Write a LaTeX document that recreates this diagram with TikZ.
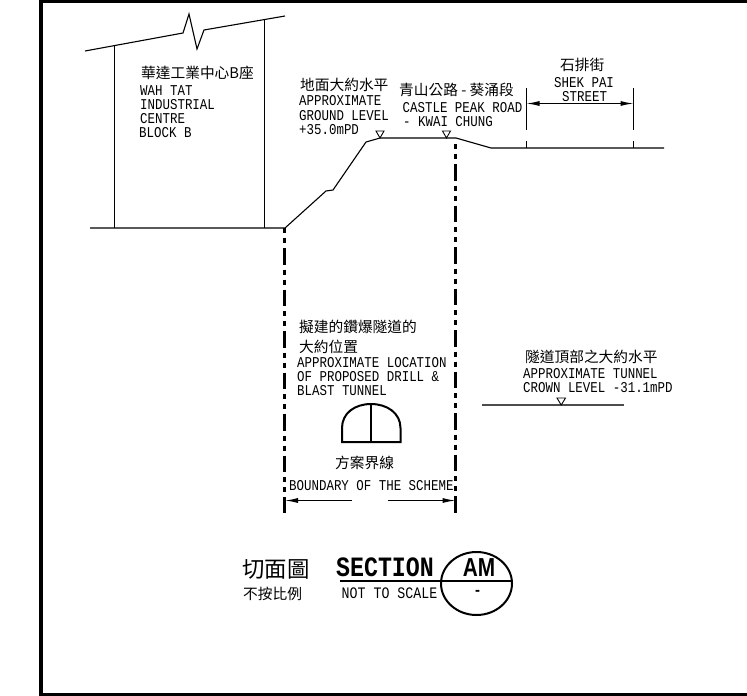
\documentclass[tikz,border=0pt]{standalone}
\usepackage{fontspec}
\setmainfont{Liberation Mono}
\newfontfamily\cad[FakeStretch=0.83]{Liberation Mono}
\newfontfamily\cadsans[FakeStretch=0.8]{Liberation Sans}
\newfontfamily\cjk{Noto Sans CJK TC}
\usetikzlibrary{arrows.meta,shapes.geometric}
\tikzset{
  x=1pt,y=-1pt,
  thin line/.style={line width=1.1pt,black},
  dim tip/.style={{Latex[length=13pt,width=5pt]}-{Latex[length=13pt,width=5pt]}},
  one tip/.style={-{Latex[length=13pt,width=5pt]}},
  chain line/.style={line width=2.4pt,black,dash pattern=on 5pt off 5pt on 5pt off 5pt on 16.5pt off 5pt},
  en/.style={inner sep=0pt,anchor=base west,font=\cad\fontsize{15}{15}\selectfont},
  zh/.style={inner sep=0pt,anchor=base west,font=\cjk\fontsize{14.7}{15}\selectfont},
  tri/.style={line width=.9pt,black,fill=white}
}
\begin{document}
\begin{tikzpicture}
\useasboundingbox (0,0) rectangle (747,696);
\fill[white] (0,0) rectangle (747,696);
% frame
\draw[line width=3.6pt,black] (41,0) -- (41,694.3) -- (747,694.3);
\draw[line width=3.2pt,black] (39,1.6) -- (747,1.6);
% building
\coordinate (roofL) at (85,51);
\coordinate (kinkA) at (183,33);
\coordinate (kinkB) at (189,14);
\coordinate (kinkC) at (197,49);
\coordinate (kinkD) at (204,30);
\coordinate (roofR) at (285,16);
\draw[thin line] (roofL) -- (kinkA) -- (kinkB) -- (kinkC) -- (kinkD) -- (roofR);
\draw[thin line] (114.5,46) -- (114.5,228);
\draw[thin line] (264.5,20) -- (264.5,228);
% ground
\coordinate (g0) at (90,228);
\coordinate (g1) at (285,228);
\coordinate (g2) at (326,191);
\coordinate (g3) at (333,190);
\coordinate (g4) at (366,142);
\coordinate (g5) at (380,138);
\coordinate (g6) at (456,138);
\coordinate (g7) at (491,148);
\coordinate (g8) at (664,148);
\draw[thin line] (g0) -- (g1) -- (g2) -- (g3) -- (g4) -- (g5) -- (g6) -- (g7) -- (g8);
% level markers
\draw[tri] (376,131) -- (384,131) -- (380,138) -- cycle;
\draw[tri] (442.5,131) -- (450.5,131) -- (446.5,138) -- cycle;
% street dims
\draw[thin line] (526.5,88) -- (526.5,130) (526.5,141) -- (526.5,148);
\draw[thin line] (633.5,88) -- (633.5,130) (633.5,141) -- (633.5,148);
\draw[thin line,dim tip] (526.5,103.5) -- (633.5,103.5);
% boundaries
\coordinate (b1t) at (284.5,228);
\coordinate (b1b) at (284.5,512.5);
\coordinate (b2t) at (455.5,144);
\coordinate (b2b) at (455.5,512.5);
\draw[chain line] (b1t) -- (b1b);
\draw[chain line] (b2t) -- (b2b);
\draw[thin line,one tip] (352,500.5) -- (285,500.5);
\draw[thin line,one tip] (388,500.5) -- (455.5,500.5);
% tunnel
\draw[line width=2pt] (342,442) -- (342,428) .. controls (342,413) and (355,404) .. (371,404) .. controls (387,404) and (400.5,413) .. (400.5,428) -- (400.5,442) -- cycle;
\draw[line width=2pt] (371,404) -- (371,442);
% crown level
\draw[line width=1.1pt,black!70] (482,405) -- (624,405);
\draw[tri] (557,398) -- (565.5,398) -- (561.2,405) -- cycle;
% section title
\node[draw,ellipse,line width=2pt,minimum width=71pt,minimum height=63pt,inner sep=0pt] (sec) at (476.5,583.5) {};
\draw[line width=2pt] (340,581) -- (512,581);
% texts
\node[zh] at (141,78) {華達工業中心B座};
\node[en] at (140,95) {WAH TAT};
\node[en] at (140,109) {INDUSTRIAL};
\node[en] at (140,123) {CENTRE};
\node[en] at (139,137) {BLOCK B};
\node[zh] at (300,90) {地面大約水平};
\node[en] at (299,105) {APPROXIMATE};
\node[en] at (299,120) {GROUND LEVEL};
\node[en] at (299,134) {+35.0mPD};
\node[zh] at (399,95.5) {青山公路 - 葵涌段};
\node[en] at (402.5,112) {CASTLE PEAK ROAD};
\node[en] at (403,126) {- KWAI CHUNG};
\node[zh] at (560,70.5) {石排街};
\node[en] at (554,87) {SHEK PAI};
\node[en] at (562,101) {STREET};
\node[zh] at (299,332.5) {擬建的鑽爆隧道的};
\node[zh] at (299,352) {大約位置};
\node[en] at (297,367) {APPROXIMATE LOCATION};
\node[en] at (297,381) {OF PROPOSED DRILL \&};
\node[en] at (297,395) {BLAST TUNNEL};
\node[zh] at (335,468.5) {方案界線};
\node[en] at (289,490) {BOUNDARY OF THE SCHEME};
\node[zh] at (525,362.5) {隧道頂部之大約水平};
\node[en] at (523,378) {APPROXIMATE TUNNEL};
\node[en] at (523,392) {CROWN LEVEL -31.1mPD};
\node[inner sep=0pt,anchor=base west,font=\cjk\fontsize{22.4}{23}\selectfont] at (242,577) {切面圖};
\node[zh] at (243,599.5) {不按比例};
\node[inner sep=0pt,anchor=base west,font=\cad\bfseries\fontsize{28}{28}\selectfont] at (336,576) {SECTION};
\node[inner sep=0pt,anchor=base west,font=\cad\fontsize{16}{16}\selectfont] at (341.5,598) {NOT TO SCALE};
\node[inner sep=0pt,anchor=base,font=\cadsans\bfseries\fontsize{26}{26}\selectfont] at (479,576) {AM};
\node[inner sep=0pt,anchor=base,font=\cad\bfseries\fontsize{16}{16}\selectfont] at (477.5,595) {-};
\end{tikzpicture}
\end{document}
